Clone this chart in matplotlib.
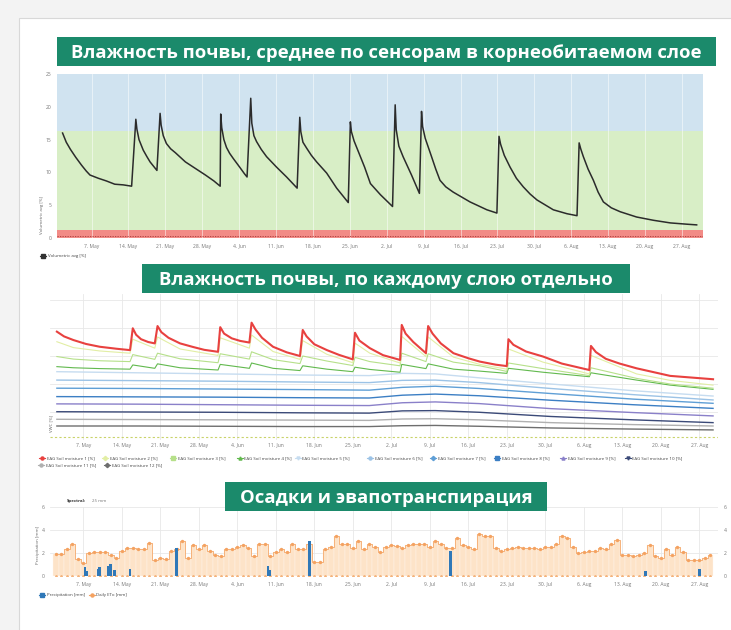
import numpy as np
import pandas as pd
import matplotlib
matplotlib.use('Agg')
import matplotlib.pyplot as plt
from matplotlib.lines import Line2D
from matplotlib.patches import Rectangle

plt.rcParams['font.family'] = ['Open Sans', 'DejaVu Sans']

W, H = 731, 630
START = pd.Timestamp('2023-05-07')   # day 0 of the offsets below

# --- chart 1: average soil moisture in root zone (days after 7 May, %)
avg_day = [-5.5, -4.8, -4.0, -3.0, -1.9, -1.0, -0.3, 1.3, 2.8, 4.4, 6.0, 7.6,
           8.4, 8.6, 9.0, 9.8, 10.5, 11.1, 11.8, 12.4,
           13.0, 13.2, 13.6, 14.2, 15.0, 15.9, 17.8, 19.7, 21.6, 23.2, 24.4,
           24.5, 24.7, 25.1, 25.6, 26.2, 26.9, 28.1, 29.0, 29.5,
           30.2, 30.4, 30.8, 31.3, 32.2, 33.2, 35.1, 37.0, 39.0,
           39.5, 39.7, 40.1, 40.8, 41.7, 42.7, 44.6, 46.5, 48.7,
           49.1, 49.3, 49.8, 50.6, 51.8, 52.9, 54.8, 57.1,
           57.6, 57.8, 58.3, 59.1, 60.7, 62.2,
           62.6, 62.8, 63.3, 64.5, 65.3, 66.1, 67.2, 68.6, 71.8, 75.0, 76.9,
           77.3, 77.6, 78.3, 79.4, 80.6, 81.9, 83.2, 84.5, 87.6, 90.2, 92.1,
           92.5, 92.8, 93.3, 94.2, 95.2, 96.1, 97.1, 98.6, 100.3, 103.4, 106.6,
           109.8, 113.0, 114.8]
avg_val = [16.0, 14.6, 13.5, 12.3, 11.1, 10.2, 9.6, 9.1, 8.7, 8.2, 8.1, 7.9,
           18.1, 16.6, 15.0, 13.4, 12.4, 11.6, 10.9, 10.3,
           19.0, 17.2, 15.6, 14.4, 13.6, 13.0, 11.6, 10.6, 9.6, 8.7, 7.9,
           18.9, 16.8, 15.0, 13.8, 12.9, 12.1, 10.8, 9.8, 9.3,
           21.3, 17.5, 15.6, 14.7, 13.5, 12.4, 10.8, 9.3, 7.6,
           18.4, 16.2, 14.6, 13.7, 12.6, 11.6, 9.9, 7.6, 5.4,
           17.7, 16.2, 14.8, 13.2, 10.8, 8.3, 6.6, 4.8,
           20.3, 16.5, 14.0, 12.4, 9.6, 6.8,
           19.3, 17.0, 15.2, 12.4, 10.5, 8.8, 7.8, 7.0, 5.5, 4.3, 3.8,
           15.5, 14.3, 12.6, 10.8, 9.1, 7.8, 6.7, 5.8, 4.3, 3.7, 3.4,
           14.5, 13.6, 12.4, 10.5, 8.8, 7.0, 5.5, 4.6, 4.0, 3.2, 2.7,
           2.3, 2.1, 2.0]
band_red = (0, 1.2)
band_green = (1.2, 16.3)
band_blue = (16.3, 25)

# --- chart 2: soil moisture per layer
red_day = [-4.8, -3.5, -1.8, 0.5, 3.0, 6.0, 8.5, 9.0, 9.6, 10.5, 11.8, 13.0,
           13.5, 14.2, 15.5, 17.6, 20.0, 22.0, 24.5, 24.9, 25.6, 27.0, 28.5, 30.2,
           30.6, 31.3, 32.5, 34.5, 37.0, 39.4, 39.9, 40.6, 42.0, 44.3, 46.5, 49.0,
           49.4, 50.2, 52.1, 54.5, 57.6, 57.9, 58.6, 60.0, 62.3, 62.7, 63.5, 65.0,
           67.3, 70.0, 72.1, 75.0, 77.0, 77.3, 78.2, 80.5, 83.6, 87.0, 92.0, 92.3,
           93.2, 95.0, 97.5, 100.6, 106.7, 114.5]
sm1 = [38.7, 37.0, 35.7, 34.3, 33.3, 32.6, 32.1, 39.9, 37.6, 36.0, 35.0, 34.5,
       40.7, 38.5, 36.5, 34.5, 33.2, 32.2, 31.5, 40.3, 38.0, 36.3, 35.4, 34.8,
       41.9, 39.5, 36.5, 33.3, 31.3, 30.0, 39.3, 37.0, 34.2, 32.1, 30.4, 28.8,
       38.3, 35.5, 32.8, 30.3, 28.6, 41.1, 38.0, 35.0, 31.0, 40.7, 38.0, 34.5,
       31.0, 29.2, 28.0, 26.9, 26.4, 36.0, 34.0, 31.6, 29.8, 27.3, 25.0, 33.6,
       31.4, 29.0, 27.3, 25.6, 22.9, 21.7]
layer_day = [-4.8, -1.8, 3.0, 8.5, 9.0, 13.0, 13.5, 17.6, 24.5, 24.9, 30.2, 30.6, 34.5,
             39.4, 39.9, 44.3, 49.0, 49.4, 52.1, 57.6, 57.9, 62.3, 62.7, 67.3, 72.1,
             77.0, 77.3, 83.6, 92.0, 92.3, 100.6, 106.7, 114.5]
sm2 = [35.1, 33.0, 31.8, 31.0, 36.0, 32.8, 36.8, 32.5, 30.2, 36.5, 32.8, 37.5, 31.6,
       28.8, 35.5, 30.6, 27.6, 34.6, 31.0, 27.5, 37.0, 29.8, 36.8, 29.6, 27.0,
       25.3, 32.5, 27.8, 23.6, 30.2, 23.6, 21.3, 19.6]
sm3 = [29.8, 28.9, 28.3, 28.0, 30.5, 28.8, 31.0, 29.0, 27.6, 30.8, 28.9, 31.5, 28.7,
       27.3, 30.0, 28.2, 26.6, 29.5, 28.0, 26.5, 31.0, 28.0, 30.8, 27.8, 26.5,
       24.5, 27.5, 25.5, 23.0, 25.8, 22.0, 20.0, 18.5]
sm4 = [26.2, 25.8, 25.5, 25.3, 26.8, 25.6, 27.2, 25.8, 25.0, 27.0, 25.6, 27.5, 25.6,
       24.8, 26.5, 25.3, 24.4, 26.0, 25.2, 24.2, 27.0, 25.5, 27.2, 25.3, 24.6,
       23.8, 25.6, 24.2, 22.6, 24.0, 21.4, 19.6, 18.1]
deep_day = [-4.8, 10, 25, 40, 52, 58, 64, 72, 85, 100, 114.5]
sm5 = [24.4, 24.0, 23.6, 23.2, 23.0, 23.8, 23.6, 22.2, 20.0, 17.6, 15.7]
sm6 = [21.4, 21.2, 21.0, 20.7, 20.5, 21.3, 21.4, 20.5, 18.4, 16.2, 14.3]
sm7 = [18.5, 18.4, 18.2, 18.0, 17.8, 18.8, 19.2, 18.4, 16.6, 14.6, 13.1]
sm8 = [15.5, 15.4, 15.3, 15.1, 15.0, 16.0, 16.4, 15.8, 14.2, 12.6, 11.3]
sm9 = [12.9, 12.8, 12.6, 12.4, 12.3, 13.3, 13.6, 13.0, 11.2, 9.8, 8.6]
sm10 = [10.1, 10.0, 9.9, 9.7, 9.6, 10.4, 10.5, 9.9, 8.4, 7.2, 6.2]
sm11 = [7.4, 7.3, 7.2, 7.1, 7.0, 7.5, 7.6, 7.2, 6.2, 5.5, 5.0]
sm12 = [5.0, 5.0, 4.9, 4.8, 4.8, 5.1, 5.2, 4.9, 4.3, 3.9, 3.6]
layer_names = ['EAG Soil moisture %d [%%]' % i for i in range(1, 13)]
layer_colors = ['#e8413f', '#e2eea4', '#b6e08a', '#62b94e', '#c6dcf0', '#9cc3e6',
                '#5f9fd6', '#3c7fc4', '#8a80c9', '#3b4a78', '#b0b0b0', '#6e6e6e']

# --- chart 3: precipitation and ETo
et_first_day = -5
eto = [1.9, 1.9, 2.3, 2.8, 1.5, 1.1, 2.0, 2.1, 2.1, 2.1,
       1.8, 1.6, 2.2, 2.4, 2.4, 2.3, 2.3, 2.9, 1.4, 1.6,
       1.5, 2.2, 2.3, 3.0, 1.6, 2.7, 2.3, 2.7, 2.2, 1.8,
       1.7, 2.3, 2.3, 2.5, 2.7, 2.4, 1.7, 2.8, 2.8, 1.7,
       2.1, 2.3, 2.1, 2.8, 2.3, 2.3, 2.8, 1.2, 1.2, 2.3,
       2.5, 3.5, 2.8, 2.8, 2.4, 3.0, 2.3, 2.8, 2.5, 2.1,
       2.5, 2.7, 2.6, 2.4, 2.7, 2.8, 2.8, 2.8, 2.5, 3.0,
       2.8, 2.4, 2.4, 3.3, 2.7, 2.5, 2.3, 3.6, 3.5, 3.5,
       2.4, 2.2, 2.3, 2.4, 2.5, 2.4, 2.4, 2.4, 2.3, 2.5,
       2.5, 2.8, 3.5, 3.3, 2.5, 2.0, 2.1, 2.2, 2.2, 2.4,
       2.3, 2.8, 3.1, 1.8, 1.8, 1.7, 1.8, 2.0, 2.7, 1.7,
       1.6, 2.3, 1.8, 2.5, 2.1, 1.4, 1.4, 1.4, 1.6, 1.8]
rain_day = [0.3, 0.6, 2.7, 3.0, 4.5, 5.0, 5.7, 8.5, 16.9, 33.6, 33.9, 41.1, 66.7, 102.2, 112.1]
rain = [0.8, 0.4, 0.6, 0.8, 0.9, 1.0, 0.5, 0.6, 2.4, 0.9, 0.5, 3.0, 2.2, 0.4, 0.6]


def to_dates(days):
    return START + pd.to_timedelta(np.asarray(days, dtype=float), unit='D')


def px_box(l, t, r, b):
    return [l / W, 1 - b / H, (r - l) / W, (b - t) / H]


def week_ticks(ax):
    ticks = pd.date_range('2023-05-07', '2023-08-27', freq='7D')
    ax.set_xticks(ticks)
    ax.set_xticklabels(['%d. %s' % (d.day, d.strftime('%b')) for d in ticks])


def legend_item(x, y, marker, color, label):
    fig.add_artist(Line2D([(x - 3) / W, (x + 3) / W], [1 - y / H, 1 - y / H],
                          transform=fig.transFigure, color=color, lw=0.8))
    fig.add_artist(Line2D([x / W], [1 - y / H], transform=fig.transFigure, marker=marker,
                          color=color, markersize=2.2, lw=0))
    fig.text((x + 4.5) / W, 1 - y / H, label, fontsize=3.2, color='#444', va='center', ha='left')


def banner(l, t, r, b, text):
    fig.patches.append(Rectangle((l / W, 1 - b / H), (r - l) / W, (b - t) / H,
                                 transform=fig.transFigure, facecolor='#1b8a6b', edgecolor='none'))
    fig.text((l + r) / 2 / W, 1 - (t + b) / 2 / H - 0.002, text, ha='center', va='center',
             color='white', fontsize=13.3, fontweight='bold')


fig = plt.figure(figsize=(W / 100, H / 100), dpi=100)
fig.patch.set_facecolor('#f3f3f3')
fig.patches.append(Rectangle((19 / W, -0.01), 1, 1 - 18 / H + 0.01, transform=fig.transFigure,
                             facecolor='white', edgecolor='#d8d8d8', lw=0.8, zorder=-1))

tick_kw = dict(labelsize=3.6, colors='#777', length=0)

# chart 1
ax1 = fig.add_axes(px_box(57.3, 74, 703, 238))
ax1.axhspan(*band_red, color='#f28b86', lw=0)
ax1.axhspan(*band_green, color='#d8eec6', lw=0)
ax1.axhspan(*band_blue, color='#d0e3f0', lw=0)
ax1.axhline(0.3, color='#a83a3a', lw=0.6, ls=(0, (1.5, 1.5)))
ax1.plot(to_dates(avg_day), avg_val, color='#2b2b2b', lw=1.1)
ax1.set_xlim(to_dates([-6.5, 116.0]))
ax1.set_ylim(0, 25)
ax1.set_yticks([0, 5, 10, 15, 20, 25])
week_ticks(ax1)
ax1.grid(axis='x', color='white', lw=0.6, alpha=0.6)
ax1.tick_params(**tick_kw, pad=4)
for s in ax1.spines.values():
    s.set_visible(False)
fig.text(42 / W, 1 - 215 / H, 'Volumetric avg [%]', rotation=90, fontsize=3.2, color='#666',
         ha='center', va='center')
legend_item(43, 256, 's', '#333', 'Volumetric avg [%]')

# chart 2
ax2 = fig.add_axes(px_box(50, 294.4, 718, 440))
deep = [sm5, sm6, sm7, sm8, sm9, sm10, sm11, sm12]
for vals, col in zip(deep[::-1], layer_colors[4:][::-1]):
    ax2.plot(to_dates(deep_day), vals, color=col, lw=1.0)
for vals, col in zip([sm4, sm3, sm2], layer_colors[3:0:-1]):
    ax2.plot(to_dates(layer_day), vals, color=col, lw=0.8)
ax2.plot(to_dates(red_day), sm1, color=layer_colors[0], lw=1.5)
ax2.axhline(1.2, color='#c9d36a', lw=0.8, ls=(0, (2, 2)))
ax2.set_xlim(to_dates([-6.05, 115.4]))
ax2.set_ylim(0, 52)
ax2.set_yticks([0, 10, 20, 30, 40, 50])
ax2.set_yticklabels([])
week_ticks(ax2)
ax2.grid(color='#e8e8e8', lw=0.6)
ax2.tick_params(**tick_kw, pad=2)
for s in ax2.spines.values():
    s.set_visible(False)
fig.text(51 / W, 1 - 423 / H, 'VWC [%]', rotation=90, fontsize=3.2, color='#666',
         ha='center', va='center')
markers = ['o', 'D', 's', '^', 'v']
row1_x = [42, 105, 173, 240, 298, 370, 433, 497, 563, 628]
for i in range(12):
    if i < 10:
        x, y = row1_x[i], 458
    else:
        x, y = [41, 107][i - 10], 465
    legend_item(x, y, markers[i % 5], layer_colors[i], layer_names[i])

# chart 3
ax3 = fig.add_axes(px_box(50, 506.7, 718, 576))
et_dates = to_dates(np.arange(len(eto)) + et_first_day)
ax3.bar(et_dates, eto, width=1.0, color='#fde3c8', edgecolor='#fff6ee', lw=0.3, zorder=2)
ax3.step(et_dates, eto, where='mid', color='#f6b27a', lw=0.7, zorder=3)
ax3.plot(et_dates, eto, 'o', color='#f4a261', markersize=1.4, zorder=4)
ax3.plot(et_dates, np.zeros(len(eto)), 'o', color='#f4b27a', markersize=1.0, zorder=4)
ax3.bar(to_dates(rain_day), rain, width=0.5, color='#2f78b8', zorder=5)
ax3.set_xlim(to_dates([-6.05, 115.4]))
ax3.set_ylim(0, 6)
ax3.set_yticks([0, 2, 4, 6])
week_ticks(ax3)
ax3.grid(color='#e8e8e8', lw=0.6, zorder=0)
ax3.set_axisbelow(True)
ax3.tick_params(**tick_kw, pad=4, labelright=True)
for s in ax3.spines.values():
    s.set_visible(False)
fig.text(38 / W, 1 - 545 / H, 'Precipitation [mm]', rotation=90, fontsize=3.2, color='#666',
         ha='center', va='center')
fig.text(67 / W, 1 - 500.7 / H, 'Spectral:', fontsize=3.2, color='#333', fontweight='bold',
         va='center')
fig.text(92 / W, 1 - 500.7 / H, '25 mm', fontsize=3.2, color='#777', va='center')
legend_item(42, 595, 's', '#2f78b8', 'Precipitation [mm]')
legend_item(92, 595, 'o', '#f4a261', 'Daily ETo [mm]')

banner(57, 37, 716, 66, 'Влажность почвы, среднее по сенсорам в корнеобитаемом слое')
banner(142, 264, 630, 293, 'Влажность почвы, по каждому слою отдельно')
banner(225, 482, 547, 511, 'Осадки и эвапотранспирация')

fig.savefig('out.png', dpi=100, facecolor=fig.get_facecolor())
